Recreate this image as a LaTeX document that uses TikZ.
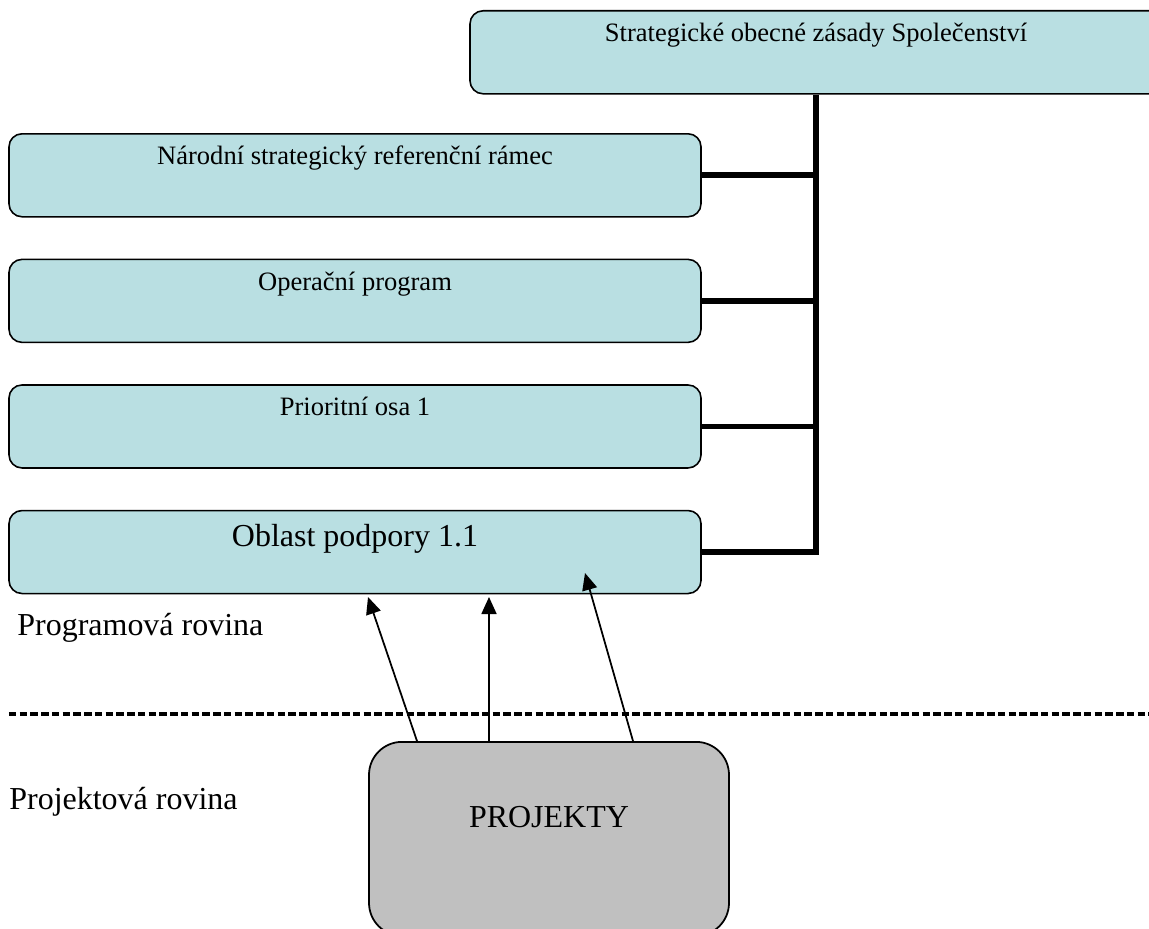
\documentclass[tikz,border=0pt]{standalone}
\usepackage{fontspec}
\setmainfont{Liberation Serif}
\usetikzlibrary{arrows.meta, positioning}
\definecolor{boxblue}{RGB}{185,223,226}
\definecolor{projgray}{RGB}{192,192,192}

\begin{document}
\begin{tikzpicture}[
    box/.style={draw, line width=0.9pt, fill=boxblue, rounded corners=0.26cm,
        minimum width=13.84cm, inner ysep=0pt, text height=0.62cm, text depth=1.04cm,
        font=\fontsize{15.1}{18}\selectfont},
    link/.style={line width=3.2pt},
    arr/.style={-{Triangle[length=0.34cm, width=0.3cm]}, line width=1pt},
    level/.style={font=\fontsize{18.2}{22}\selectfont, inner sep=0pt}
]
    \useasboundingbox (0,0) rectangle (22.98,-18.56);

    % Programme boxes
    \node[box, anchor=north] (sozs) at (16.32,-0.2) {Strategické obecné zásady Společenství};
    \node[box, anchor=north] (nsrr) at (7.10,-2.66) {Národní strategický referenční rámec};
    \node[box, below=0.82cm of nsrr] (op) {Operační program};
    \node[box, below=0.82cm of op] (po) {Prioritní osa 1};
    \node[box, below=0.82cm of po, text height=0.72cm, text depth=0.94cm,
        font=\fontsize{18.2}{22}\selectfont] (opp) {Oblast podpory 1.1};

    % Links to the top box
    \draw[link] (sozs.south) |- (opp.east);
    \draw[link] (nsrr.east) -- (nsrr.east -| sozs.south);
    \draw[link] (op.east) -- (op.east -| sozs.south);
    \draw[link] (po.east) -- (po.east -| sozs.south);

    % Levels
    \node[level, anchor=base west] (progrov) at (0.34,-12.70) {Programová rovina};
    \node[level, anchor=base west] (projrov) at (0.18,-16.18) {Projektová rovina};
    \draw[line width=1.8pt, dash pattern=on 0.15cm off 0.065cm] (0.18,-14.28) -- (22.98,-14.28);

    % Projects
    \node[draw, line width=1pt, fill=projgray, rounded corners=0.66cm, minimum width=7.2cm,
        inner ysep=0pt, text height=1.72cm, text depth=2.16cm, anchor=north,
        font=\fontsize{18.2}{22}\selectfont] (proj) at (10.98,-14.82) {PROJEKTY};

    % Arrows up to the support area
    \coordinate (tip1) at (7.36,-11.94);
    \coordinate (tip2) at (9.78,-11.94);
    \coordinate (tip3) at (11.70,-11.46);
    \draw[arr] ([xshift=-2.64cm]proj.north) -- (tip1);
    \draw[arr] ([xshift=-1.2cm]proj.north) -- (tip2);
    \draw[arr] ([xshift=1.68cm]proj.north) -- (tip3);
\end{tikzpicture}
\end{document}
